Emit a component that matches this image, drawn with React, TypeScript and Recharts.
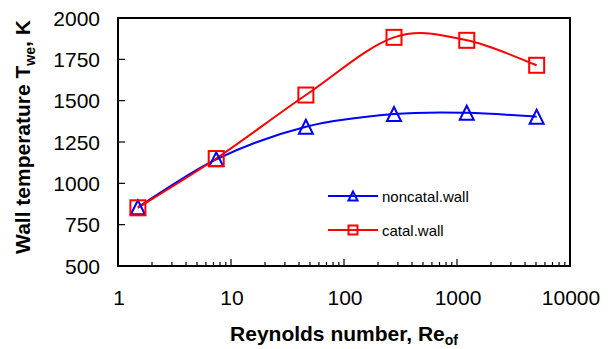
import React from "react";
import {
  LineChart,
  Line,
  XAxis,
  YAxis,
  ReferenceArea,
  Legend,
} from "recharts";

const reynolds = [1.5, 7.4, 46, 277, 1220, 5070];
const noncatalWall = [855, 1145, 1342, 1419, 1427, 1403];
const catalWall = [852, 1150, 1534, 1883, 1865, 1714];

const xMajorTicks = [1, 10, 100, 1000, 10000];
const yTicks = [500, 750, 1000, 1250, 1500, 1750, 2000];

const FONT = "'Liberation Sans', Arial, sans-serif";
const BLUE = "#0000FF";
const RED = "#FF0000";

// log minor ticks: 1..9 x each decade
const xAllTicks: number[] = [];
xMajorTicks.slice(0, -1).forEach((d) => {
  for (let m = 1; m < 10; m++) xAllTicks.push(m * d);
});
xAllTicks.push(10000);

const chartData = reynolds.map((re, i) => ({
  re,
  noncatal: noncatalWall[i],
  catal: catalWall[i],
}));

// Excel-like smoothed line (Catmull-Rom as cubic bezier)
const excelSmooth: any = (context: any) => {
  let pts: number[][] = [];
  return {
    areaStart() {},
    areaEnd() {},
    lineStart() {
      pts = [];
    },
    point(x: number, y: number) {
      pts.push([+x, +y]);
    },
    lineEnd() {
      const n = pts.length;
      if (!n) return;
      context.moveTo(pts[0][0], pts[0][1]);
      for (let i = 0; i < n - 1; i++) {
        const p0 = pts[Math.max(i - 1, 0)];
        const p1 = pts[i];
        const p2 = pts[i + 1];
        const p3 = pts[Math.min(i + 2, n - 1)];
        context.bezierCurveTo(
          p1[0] + (p2[0] - p0[0]) / 6,
          p1[1] + (p2[1] - p0[1]) / 6,
          p2[0] - (p3[0] - p1[0]) / 6,
          p2[1] - (p3[1] - p1[1]) / 6,
          p2[0],
          p2[1]
        );
      }
    },
  };
};

const Triangle = ({ cx, cy, s = 7 }: any) => (
  <polygon
    points={`${cx},${cy - s} ${cx - s},${cy + s} ${cx + s},${cy + s}`}
    fill="none"
    stroke={BLUE}
    strokeWidth={2}
  />
);

const Square = ({ cx, cy, s = 7.5 }: any) => (
  <rect x={cx - s} y={cy - s} width={s * 2} height={s * 2} fill="none" stroke={RED} strokeWidth={2} />
);

const XTick = ({ x, y, payload }: any) => {
  const v = payload.value;
  const major = xMajorTicks.includes(v);
  return (
    <g>
      {v !== 1 && v !== 10000 && (
        <line x1={x} x2={x} y1={y} y2={y - (major ? 7 : 4)} stroke="#000" strokeWidth={1.2} />
      )}
      {major && (
        <text x={x + 1} y={y + 39} textAnchor="middle" fontSize={21} fontFamily={FONT} fill="#000">
          {v}
        </text>
      )}
    </g>
  );
};

const YTick = ({ x, y, payload }: any) => {
  const v = payload.value;
  return (
    <g>
      {v !== 500 && v !== 2000 && (
        <line x1={x} x2={x + 7} y1={y} y2={y} stroke="#000" strokeWidth={1.2} />
      )}
      <text x={x - 18} y={y + 7.5} textAnchor="end" fontSize={21} fontFamily={FONT} fill="#000">
        {v}
      </text>
    </g>
  );
};

const YTitle = ({ viewBox }: any) => {
  const cy = viewBox.y + viewBox.height / 2 - 5;
  return (
    <text
      x={30}
      y={cy}
      transform={`rotate(-90, 30, ${cy})`}
      textAnchor="middle"
      fontSize={21}
      fontWeight="bold"
      fontFamily={FONT}
      fill="#000"
    >
      Wall temperature T
      <tspan fontSize={14} dy={5}>we</tspan>
      <tspan dy={-5}>, K</tspan>
    </text>
  );
};

const XTitle = ({ viewBox }: any) => (
  <text
    x={viewBox.x + viewBox.width / 2}
    y={viewBox.y + 75}
    textAnchor="middle"
    fontSize={21}
    fontWeight="bold"
    fontFamily={FONT}
    fill="#000"
  >
    Reynolds number, Re
    <tspan fontSize={14} dy={4}>of</tspan>
  </text>
);

const LegendContent = () => {
  const items = [
    { name: "noncatal.wall", color: BLUE, marker: "tri" },
    { name: "catal.wall", color: RED, marker: "sq" },
  ];
  return (
    <div>
      {items.map((it) => (
        <div key={it.name} style={{ display: "flex", alignItems: "center", height: 34 }}>
          <svg width={52} height={20}>
            <line x1={0} x2={50} y1={10} y2={10} stroke={it.color} strokeWidth={2} />
            {it.marker === "tri" ? <Triangle cx={25} cy={10} s={4.5} /> : <Square cx={25} cy={10} s={4.5} />}
          </svg>
          <span style={{ fontFamily: FONT, fontSize: 15, color: "#000", marginLeft: 2 }}>{it.name}</span>
        </div>
      ))}
    </div>
  );
};

export default function App() {
  return (
    <div style={{ position: "absolute", left: 0, top: 0, width: 614, height: 349, background: "#fff" }}>
      <LineChart width={614} height={349} data={chartData} margin={{ top: 18, right: 44, bottom: 0, left: 0 }}>
        <XAxis
          dataKey="re"
          type="number"
          scale="log"
          domain={[1, 10000]}
          ticks={xAllTicks}
          interval={0}
          allowDataOverflow
          axisLine={false}
          tickLine={false}
          tickSize={0}
          tickMargin={0}
          tick={<XTick />}
          height={83}
          label={<XTitle />}
        />
        <YAxis
          type="number"
          domain={[500, 2000]}
          ticks={yTicks}
          interval={0}
          allowDataOverflow
          axisLine={false}
          tickLine={false}
          tickSize={0}
          tickMargin={0}
          tick={<YTick />}
          width={118}
          label={<YTitle />}
        />
        <ReferenceArea x1={1} x2={10000} y1={500} y2={2000} fill="none" stroke="#000" strokeWidth={2} ifOverflow="visible" />
        <Legend
          layout="vertical"
          align="center"
          verticalAlign="middle"
          content={<LegendContent />}
          wrapperStyle={{ left: 328, top: 179, width: 180 }}
        />
        <Line
          dataKey="noncatal"
          name="noncatal.wall"
          stroke={BLUE}
          strokeWidth={2}
          type={excelSmooth}
          isAnimationActive={false}
          dot={(p: any) => <Triangle key={`t${p.index}`} cx={p.cx} cy={p.cy} />}
        />
        <Line
          dataKey="catal"
          name="catal.wall"
          stroke={RED}
          strokeWidth={2}
          type={excelSmooth}
          isAnimationActive={false}
          dot={(p: any) => <Square key={`s${p.index}`} cx={p.cx} cy={p.cy} />}
        />
      </LineChart>
    </div>
  );
}
